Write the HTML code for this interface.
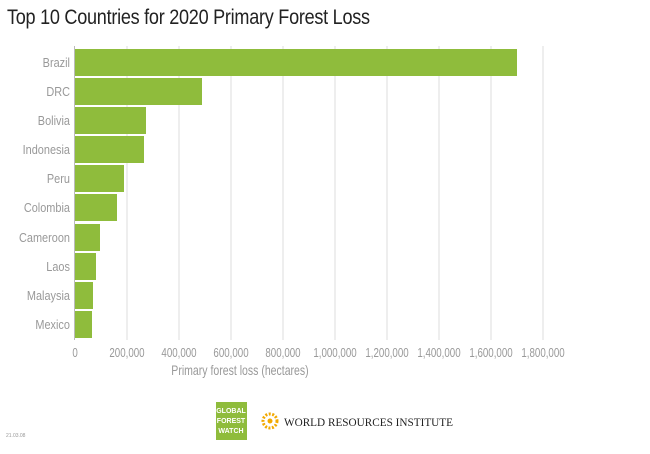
<!DOCTYPE html>
<html><head><style>
body{margin:0;width:650px;height:454px;background:#fff;font-family:"Liberation Sans",sans-serif;position:relative;overflow:hidden}
.t{position:absolute;left:7px;top:6px;font-size:21px;color:#222;transform:scaleX(0.86);transform-origin:left;letter-spacing:-0.3px;white-space:nowrap}
</style></head><body>
<div class="t">Top 10 Countries for 2020 Primary Forest Loss</div>
<svg width="650" height="454" style="position:absolute;left:0;top:0">
<g stroke="#ddd" stroke-width="1">
<line x1="127" y1="46" x2="127" y2="340"/><line x1="179" y1="46" x2="179" y2="340"/><line x1="231" y1="46" x2="231" y2="340"/><line x1="283" y1="46" x2="283" y2="340"/><line x1="335" y1="46" x2="335" y2="340"/><line x1="387" y1="46" x2="387" y2="340"/><line x1="439" y1="46" x2="439" y2="340"/><line x1="491" y1="46" x2="491" y2="340"/><line x1="543" y1="46" x2="543" y2="340"/>
</g>
<line x1="74.5" y1="46" x2="74.5" y2="340" stroke="#bbb"/>
<g fill="#8fbc3c">
<rect x="75" y="49" width="442" height="27"/>
<rect x="75" y="78" width="127" height="27"/>
<rect x="75" y="107" width="71" height="27"/>
<rect x="75" y="136" width="69" height="27"/>
<rect x="75" y="165" width="49" height="27"/>
<rect x="75" y="194" width="42" height="27"/>
<rect x="75" y="224" width="25" height="27"/>
<rect x="75" y="253" width="21" height="27"/>
<rect x="75" y="282" width="18" height="27"/>
<rect x="75" y="311" width="17" height="27"/>
</g>
<g font-size="13" fill="#999" text-anchor="end" transform="scale(0.84,1)">
<text x="83.3" y="67">Brazil</text><text x="83.3" y="96">DRC</text><text x="83.3" y="125">Bolivia</text><text x="83.3" y="154">Indonesia</text><text x="83.3" y="183">Peru</text><text x="83.3" y="212">Colombia</text><text x="83.3" y="242">Cameroon</text><text x="83.3" y="271">Laos</text><text x="83.3" y="300">Malaysia</text><text x="83.3" y="329">Mexico</text>
</g>
<g font-size="12.5" fill="#999" text-anchor="middle" transform="scale(0.78,1)">
<text x="96.2" y="357">0</text><text x="162.8" y="357">200,000</text><text x="229.5" y="357">400,000</text><text x="296.2" y="357">600,000</text><text x="362.8" y="357">800,000</text><text x="429.5" y="357">1,000,000</text><text x="496.2" y="357">1,200,000</text><text x="562.8" y="357">1,400,000</text><text x="629.5" y="357">1,600,000</text><text x="696.2" y="357">1,800,000</text>
<text x="307.7" y="375" font-size="13.5">Primary forest loss (hectares)</text>
</g>
<rect x="216" y="402" width="31" height="38" fill="#8fbc3c"/>
<g font-size="7" fill="#fff" font-weight="bold" text-anchor="middle"><text x="231" y="413">GLOBAL</text><text x="231" y="423">FOREST</text><text x="231" y="433">WATCH</text></g>
<g fill="#f2a900"><circle cx="270" cy="421" r="7" fill="none" stroke="#f2a900" stroke-width="3" stroke-dasharray="2 1.5"/><circle cx="270" cy="421" r="2.5"/></g>
<text x="284" y="426" font-family="Liberation Serif,serif" font-size="12" textLength="169" lengthAdjust="spacingAndGlyphs" fill="#222">WORLD RESOURCES INSTITUTE</text>
<text x="6" y="437" font-size="5" fill="#999">21.03.08</text>
</svg>
</body></html>
